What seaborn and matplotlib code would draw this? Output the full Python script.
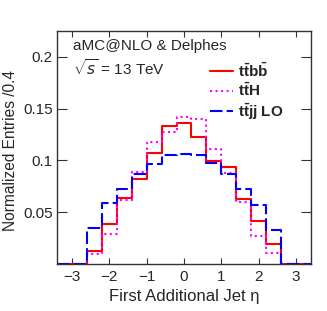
import numpy as np
import pandas as pd
import matplotlib
matplotlib.use("Agg")
import matplotlib.pyplot as plt
import seaborn as sns

# bin edges of width 0.4, bins outside |eta|<2.6 are empty
edges = [round(-3.4 + 0.4 * i, 2) for i in range(18)]
centers = [round(e + 0.2, 2) for e in edges[:-1]]

ttbb = [0, 0, 0.0124, 0.0385, 0.0634, 0.0818, 0.107, 0.133, 0.1365,
        0.123, 0.099, 0.0937, 0.0627, 0.0411, 0.0194, 0, 0]
tth = [0, 0, 0.0101, 0.029, 0.0618, 0.0889, 0.118, 0.127, 0.1415,
       0.1405, 0.111, 0.0882, 0.0602, 0.0268, 0.0108, 0, 0]
ttjj = [0, 0, 0.0347, 0.0586, 0.0729, 0.0873, 0.0968, 0.1048, 0.1064,
        0.1057, 0.0978, 0.0866, 0.0729, 0.057, 0.0331, 0, 0]

series = [
    (ttbb, r"$\mathbf{t\bar{t}b\bar{b}}$", "#ff0000", "-"),
    (tth, r"$\mathbf{t\bar{t}H}$", "#ff00ff", ":"),
    (ttjj, r"$\mathbf{t\bar{t}jj}$ LO", "#0000ff", (0, (6, 2))),
]

sns.set_style("ticks")
plt.rcParams["font.family"] = ["Liberation Sans", "DejaVu Sans"]
plt.rcParams["mathtext.fontset"] = "custom"
plt.rcParams["mathtext.rm"] = "Liberation Sans"
plt.rcParams["mathtext.bf"] = "Liberation Sans:bold"

fig = plt.figure(figsize=(3.27, 3.11), dpi=100)
ax = fig.add_axes([0.1743, 0.1511, 0.7768, 0.7492])

for vals, lab, col, ls in series:
    df = pd.DataFrame({"eta": centers, "w": vals})
    sns.histplot(data=df, x="eta", weights="w", bins=edges, element="step",
                 fill=False, color=col, linestyle=ls, linewidth=1.5,
                 label=lab, ax=ax)

ax.set_xlim(-3.4, 3.4)
ax.set_ylim(0, 0.225)
ax.set_xticks([-3, -2, -1, 0, 1, 2, 3])
ax.set_yticks([0.05, 0.1, 0.15, 0.2])
ax.set_yticklabels(["0.05", "0.1", "0.15", "0.2"])
ax.tick_params(direction="in", top=True, right=True, labelsize=11,
               width=0.8, color="#333333")
ax.tick_params(axis="x", length=4, pad=4)
ax.tick_params(axis="y", length=7, pad=3)
for s in ax.spines.values():
    s.set_linewidth(1.0)
    s.set_color("#333333")

ax.set_xlabel("First Additional Jet η", fontsize=12)
ax.set_ylabel("Normalized Entries /0.4", fontsize=11.2)
ax.yaxis.set_label_coords(-0.155, 0.487)

ax.text(0.063, 0.937, "aMC@NLO & Delphes", transform=ax.transAxes,
        fontsize=11, va="center")
ax.text(0.063, 0.84, r"$\sqrt{s}$ = 13 TeV", transform=ax.transAxes,
        fontsize=11, va="center")

leg = ax.legend(loc="upper left", bbox_to_anchor=(0.603, 0.87), frameon=False,
                fontsize=11, handlelength=1.5, handletextpad=0.35,
                labelspacing=0.15, borderpad=0, borderaxespad=0)
for t in leg.get_texts():
    t.set_fontweight("bold")

fig.savefig("out.png", dpi=100)
